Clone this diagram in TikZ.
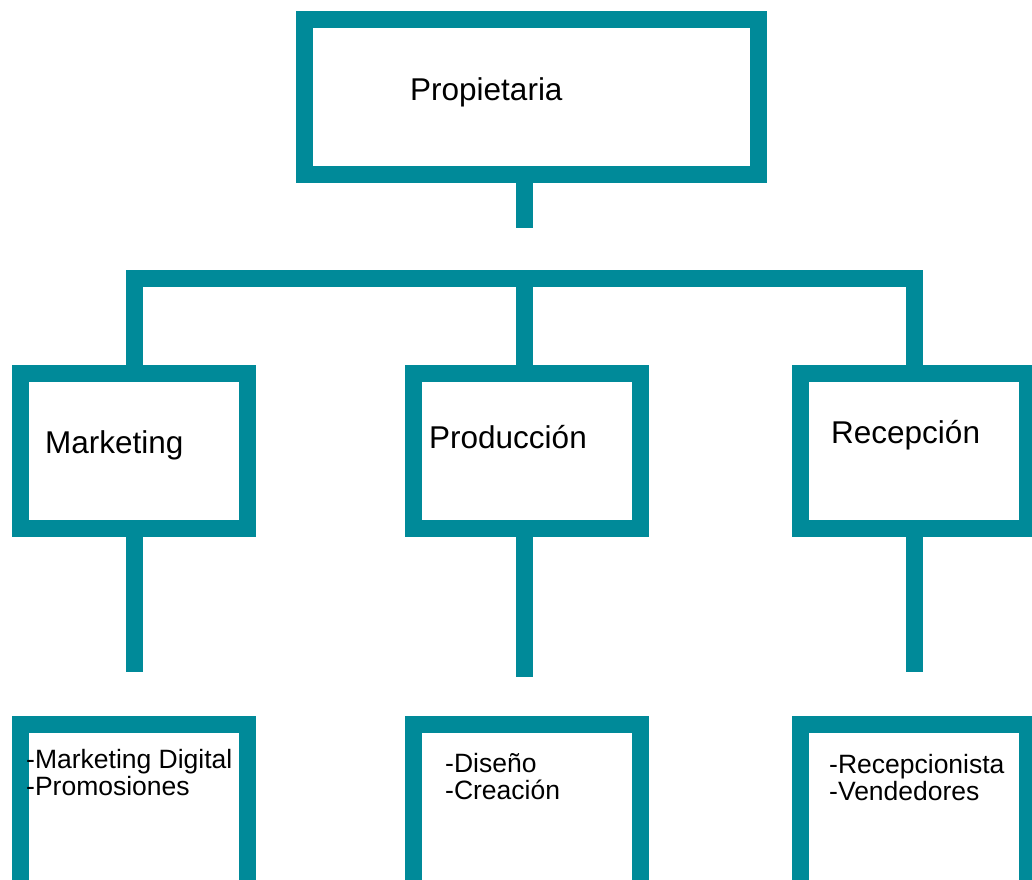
\documentclass[tikz,border=0pt]{standalone}
\usepackage{fontspec}
\setmainfont{Liberation Sans}
\usetikzlibrary{positioning,calc}
\definecolor{orgteal}{RGB}{0,138,153}

\begin{document}
\begin{tikzpicture}[x=1pt,y=-1pt,
    box/.style={draw=orgteal,line width=17pt,fill=white,inner sep=0pt,minimum width=227pt,minimum height=155pt},
    link/.style={draw=orgteal,line width=17pt},
    big/.style={anchor=base west,inner sep=0pt,font=\fontsize{31.5}{32}\selectfont},
    small/.style={anchor=base west,inner sep=0pt,align=left,font=\fontsize{26.5}{27}\selectfont}]
  \useasboundingbox (0,0) rectangle (1032,879);
  \clip (0,0) rectangle (1032,879);
  % boxes
  \node[box,minimum width=454pt] (prop) at (531.5,97) {};
  \node[box] (mkt) at (134,451) {};
  \node[box] (prod) at (527,451) {};
  \node[box] (recep) at (914,451) {};
  \node[box,minimum height=191pt] (mktsub) at (134,820) {};
  \node[box,minimum height=191pt] (prodsub) at (527,820) {};
  \node[box,minimum height=191pt] (recepsub) at (914,820) {};
  % links
  \coordinate (bar) at (0,278.5);
  \coordinate (propend) at (524,228);
  \coordinate (mktend) at (134,672);
  \coordinate (prodend) at (524,677);
  \coordinate (recepend) at (914,672);
  \draw[link] (propend |- prop.south) -- (propend);
  \draw[link] (mkt.north) -- (mkt.north |- bar) -- (recep.north |- bar) -- (recep.north);
  \draw[link] (prodend |- bar) -- (prodend |- prod.north);
  \draw[link] (mkt.south) -- (mktend);
  \draw[link] (prodend |- prod.south) -- (prodend);
  \draw[link] (recep.south) -- (recepend);
  % texts (base = last line)
  \node[big] (propt) at (410,100) {Propietaria};
  \node[big] (mktt) at (45,453) {Marketing};
  \node[big] (prodt) at (429,448) {Producción};
  \node[big] (recept) at (831,443) {Recepción};
  \node[small] (mktl) at (26,795) {-Marketing Digital\\-Promosiones};
  \node[small] (prodl) at (445,799) {-Diseño\\-Creación};
  \node[small] (recepl) at (829,800) {-Recepcionista\\-Vendedores};
\end{tikzpicture}
\end{document}
